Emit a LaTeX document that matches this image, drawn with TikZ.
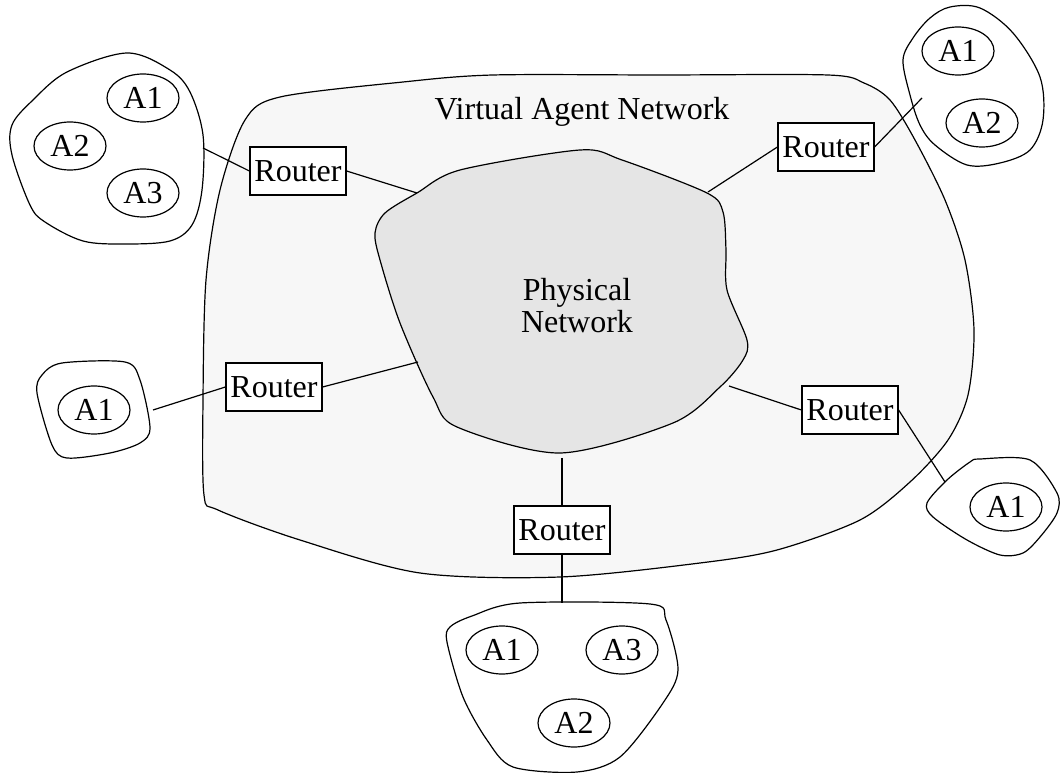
\documentclass[tikz,border=0pt]{standalone}
\usepackage{fontspec}
\setmainfont{Liberation Serif}
\usetikzlibrary{shapes.geometric}
\begin{document}
\begin{tikzpicture}[x=0.75pt,y=-0.75pt,line width=0.9pt,
  txt/.style={font=\fontsize{24}{24}\selectfont},
  router/.style={draw,fill=white,txt,minimum width=72pt,minimum height=36pt,inner sep=0pt},
  agent/.style={draw,ellipse,txt,minimum width=54pt,minimum height=36pt,inner sep=0pt}]
\useasboundingbox (0,0) rectangle (1061,773);
% Virtual agent network
\draw[fill={rgb,255:red,247;green,247;blue,247}] plot[smooth cycle,tension=0.5] coordinates {
 (204,495) (203,400) (206,280) (220,190) (245,120) (280,97) (403,82) (493,75)
 (660,75) (828,75) (864,83) (890,100) (915,140) (945,200) (965,260) (974,330)
 (968,395) (948,440) (910,482) (860,520) (777,550) (700,563) (560,577) (420,573)
 (300,540) (218,510)};
\node[txt] (van) at (582,112) {Virtual Agent Network};
% Physical network
\draw[fill={rgb,255:red,229;green,229;blue,229}] plot[smooth cycle,tension=0.5] coordinates {
 (375,233) (385,213) (417,193) (460,170) (580,150) (622,160) (707,193) (723,212)
 (726,250) (727,290) (747,340) (743,360) (720,387) (673,423) (560,453) (457,427)
 (433,397) (400,323) (380,260)};
\node[txt,align=center] (pn) at (577,306) {Physical\\Network};
\coordinate (p1) at (417,193);
\coordinate (p2) at (708,192);
\coordinate (p3) at (418,362);
\coordinate (p4) at (729,386);
\coordinate (p5) at (562,458);
% clusters
\draw plot[smooth cycle,tension=0.55] coordinates {
 (127,53) (170,70) (190,92) (203,135) (202,190) (192,225) (170,241) (125,244)
 (83,241) (45,222) (30,205) (12,155) (12,125) (33,100) (67,72)};
\draw plot[smooth cycle,tension=0.55] coordinates {
 (950,7) (980,8) (1013,33) (1040,77) (1043,120) (1030,150) (1000,163) (967,165)
 (935,145) (920,125) (910,95) (903,60) (913,38) (930,18)};
\draw plot[smooth cycle,tension=0.5] coordinates {
 (62,363) (125,362) (140,380) (150,428) (140,443) (110,453) (67,458) (52,445)
 (37,393) (42,375)};
\draw plot[smooth cycle,tension=0.5] coordinates {
 (927,503) (947,480) (970,462) (980,459) (1030,460) (1057,493) (1057,513)
 (1040,537) (1023,553) (1000,555) (967,540) (933,517)};
\draw plot[smooth cycle,tension=0.5] coordinates {
 (450,627) (472,616) (520,603) (650,604) (666,620) (678,670) (663,703) (620,757)
 (577,772) (513,767) (487,740) (463,697) (447,642)};
\coordinate (c1) at (203,148);
\coordinate (c2) at (922,98);
\coordinate (c3) at (153,410);
\coordinate (c4) at (945,482);
\coordinate (c5) at (562,603);
% agents
\node[agent] (tlA1) at (143,98) {A1};
\node[agent] (tlA2) at (70,146) {A2};
\node[agent] (tlA3) at (143,193) {A3};
\node[agent] (trA1) at (958,51) {A1};
\node[agent] (trA2) at (982,123) {A2};
\node[agent] (lA1) at (94,410) {A1};
\node[agent] (rA1) at (1006,507) {A1};
\node[agent] (bA1) at (502,650) {A1};
\node[agent] (bA3) at (622,650) {A3};
\node[agent] (bA2) at (574,723) {A2};
% routers
\node[router] (r1) at (298,171) {Router};
\node[router] (r2) at (826,147) {Router};
\node[router] (r3) at (274,387) {Router};
\node[router] (r4) at (850,410) {Router};
\node[router] (r5) at (562,530) {Router};
% links
\draw (c1) -- (r1.west);
\draw (r1.east) -- (p1);
\draw (p2) -- (r2.west);
\draw (r2.east) -- (c2);
\draw (c3) -- (r3.west);
\draw (r3.east) -- (p3);
\draw (p4) -- (r4.west);
\draw (r4.east) -- (c4);
\draw (p5) -- (r5.north);
\draw (r5.south) -- (c5);
\end{tikzpicture}
\end{document}
